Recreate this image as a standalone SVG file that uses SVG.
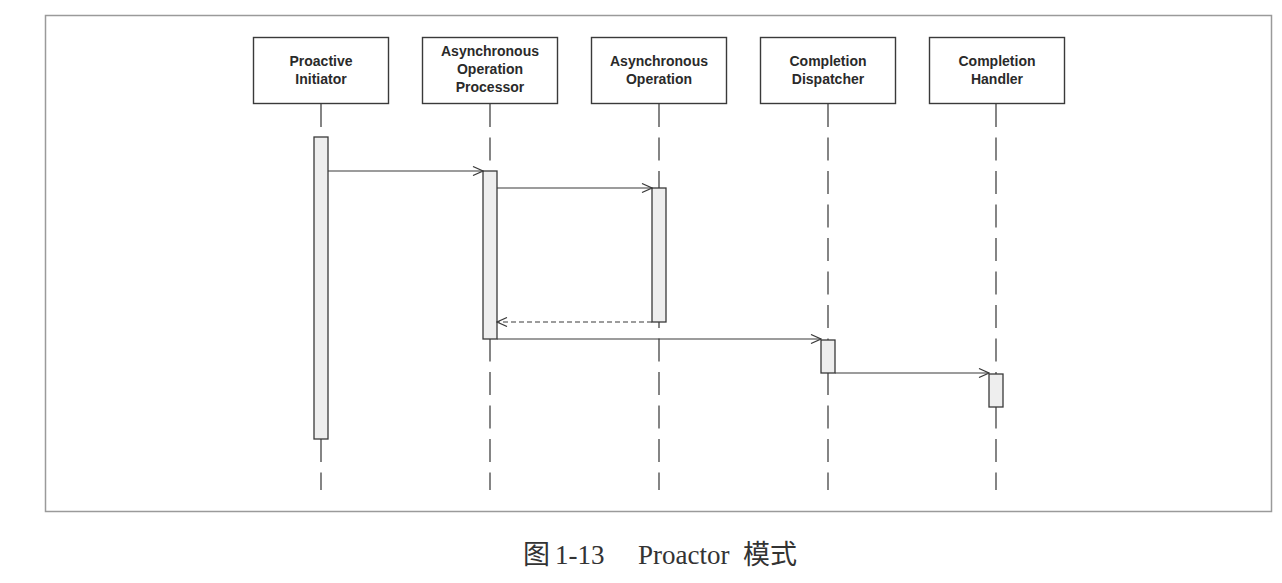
<svg xmlns="http://www.w3.org/2000/svg" width="1282" height="583" viewBox="0 0 1282 583">
  <style>
    .box { fill: #ffffff; stroke: #3a3a3a; stroke-width: 1.4; }
    .lbl { font-family: "Liberation Sans", Arial, sans-serif; font-weight: bold; font-size: 14px; fill: #2a2a2a; text-anchor: middle; }
    .life { stroke: #444; stroke-width: 1.3; stroke-dasharray: 23 10.5; fill: none; }
    .act { fill: #eeeeee; stroke: #3a3a3a; stroke-width: 1.3; }
    .msg { stroke: #3a3a3a; stroke-width: 1.2; fill: none; marker-end: url(#open); }
    .ret { stroke: #3a3a3a; stroke-width: 1.2; fill: none; stroke-dasharray: 5 3; marker-end: url(#open); }
    .cap { font-family: "Liberation Serif", "Times New Roman", "Noto Sans CJK SC", serif; font-size: 27px; fill: #333; }
  </style>
  <defs>
    <marker id="open" viewBox="0 0 12 10" refX="11" refY="5" markerWidth="12" markerHeight="10" markerUnits="userSpaceOnUse" orient="auto">
      <path d="M1,0.5 L11,5 L1,9.5" fill="none" stroke="#3a3a3a" stroke-width="1.2"/>
    </marker>
  </defs>
  <rect x="45.5" y="15.5" width="1226" height="496" fill="#ffffff" stroke="#9a9a9a" stroke-width="1.5"/>

  <g id="lifelines">
    <line class="life" x1="321" y1="104" x2="321" y2="490"/>
    <line class="life" x1="490" y1="104" x2="490" y2="490"/>
    <line class="life" x1="659" y1="104" x2="659" y2="490"/>
    <line class="life" x1="828" y1="104" x2="828" y2="490"/>
    <line class="life" x1="996" y1="104" x2="996" y2="490"/>
  </g>

  <g id="proactive-initiator">
    <rect class="box" x="253.5" y="37.5" width="135" height="66"/>
    <text class="lbl" x="321" y="66">Proactive</text>
    <text class="lbl" x="321" y="84">Initiator</text>
    <rect class="act" x="314" y="137" width="14" height="302"/>
  </g>
  <g id="async-operation-processor">
    <rect class="box" x="422.5" y="37.5" width="135" height="66"/>
    <text class="lbl" x="490" y="56">Asynchronous</text>
    <text class="lbl" x="490" y="74">Operation</text>
    <text class="lbl" x="490" y="92">Processor</text>
    <rect class="act" x="483" y="171" width="14" height="168"/>
  </g>
  <g id="async-operation">
    <rect class="box" x="591.5" y="37.5" width="135" height="66"/>
    <text class="lbl" x="659" y="66">Asynchronous</text>
    <text class="lbl" x="659" y="84">Operation</text>
    <rect class="act" x="652" y="188" width="14" height="134"/>
  </g>
  <g id="completion-dispatcher">
    <rect class="box" x="760.5" y="37.5" width="135" height="66"/>
    <text class="lbl" x="828" y="66">Completion</text>
    <text class="lbl" x="828" y="84">Dispatcher</text>
    <rect class="act" x="821" y="340" width="14" height="33"/>
  </g>
  <g id="completion-handler">
    <rect class="box" x="929.5" y="37.5" width="135" height="66"/>
    <text class="lbl" x="997" y="66">Completion</text>
    <text class="lbl" x="997" y="84">Handler</text>
    <rect class="act" x="989" y="374" width="14" height="33"/>
  </g>

  <g id="connectors">
    <line class="msg" x1="328" y1="171" x2="483" y2="171"/>
    <line class="msg" x1="497" y1="188" x2="652" y2="188"/>
    <line class="ret" x1="652" y1="322" x2="497" y2="322"/>
    <line class="msg" x1="497" y1="339" x2="821" y2="339"/>
    <line class="msg" x1="835" y1="373" x2="989" y2="373"/>
  </g>

  <g id="caption">
    <text class="cap" y="564"><tspan x="523">图</tspan><tspan x="555">1-13</tspan><tspan x="638">Proactor</tspan><tspan x="743">模式</tspan></text>
  </g>
</svg>
